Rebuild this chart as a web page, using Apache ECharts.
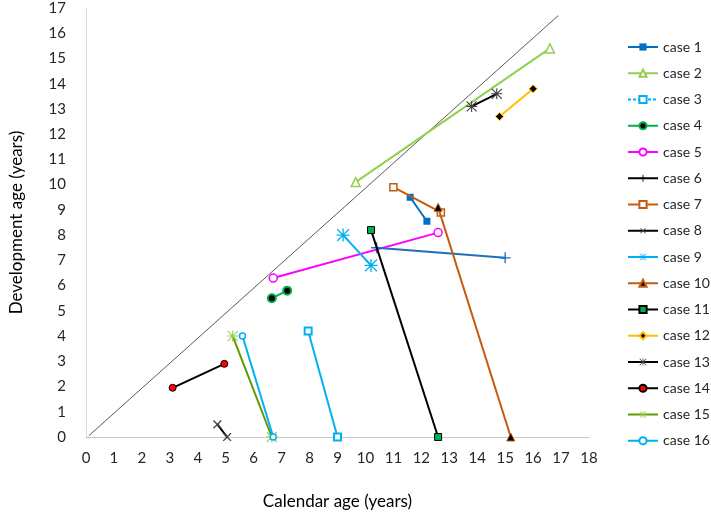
<!DOCTYPE html>
<html>
<head>
<meta charset="utf-8">
<script src="https://cdn.jsdelivr.net/npm/echarts@6/dist/echarts.min.js"></script>
<style>html,body{margin:0;padding:0;background:#fff}#c{width:711px;height:515px}</style>
</head>
<body>
<div id="c"></div>
<script>
// ---- data ----
const caseNames = ['case 1','case 2','case 3','case 4','case 5','case 6','case 7','case 8','case 9','case 10','case 11','case 12','case 13','case 14','case 15','case 16'];
const case1 = [[11.6, 9.5], [12.2, 8.55]];
const case2 = [[9.65, 10.1], [16.6, 15.4]];
const case3 = [[7.95, 4.2], [9.0, 0]];
const case4 = [[6.65, 5.5], [7.2, 5.8]];
const case5 = [[6.7, 6.3], [12.6, 8.1]];
const case6 = [[10.4, 7.5], [15.0, 7.1]];
const case7 = [[11.0, 9.9], [12.7, 8.9]];
const case8 = [[4.7, 0.5], [5.05, 0]];
const case9 = [[9.2, 8.0], [10.2, 6.8]];
const case10 = [[12.6, 9.1], [15.2, 0]];
const case11 = [[10.2, 8.2], [12.6, 0]];
const case12 = [[14.8, 12.7], [16.0, 13.8]];
const case13 = [[13.8, 13.1], [14.7, 13.6]];
const case14 = [[3.1, 1.95], [4.95, 2.9]];
const case15 = [[5.25, 4.0], [6.65, 0]];
const case16 = [[5.6, 4.0], [6.7, 0]];
const diagonal = [[0.1, 0.05], [16.9, 16.7]];
const xTicks = [0, 18, 1];
const yTicks = [0, 17, 1];

const caseData = [case1, case2, case3, case4, case5, case6, case7, case8, case9, case10, case11, case12, case13, case14, case15, case16];

const PLUS = 'path://M44,0H56V44H100V56H56V100H44V56H0V44H44Z';
const AST = 'path://M45,0H55V45H100V55H55V100H45V55H0V45H45Z M8,1L50,43L92,1L99,8L57,50L99,92L92,99L50,57L8,99L1,92L43,50L1,8Z';

const styles = [
  {line:'#0070C0', symbol:'rect', size:7, fill:'#0070C0', border:'#0070C0', bw:0},
  {line:'#92D050', symbol:'triangle', size:9, fill:'#ffffff', border:'#92D050', bw:1.5},
  {line:'#00B0F0', symbol:'rect', size:7, fill:'#ffffff', border:'#00B0F0', bw:2},
  {line:'#00B050', symbol:'circle', size:8, fill:'#000000', border:'#00B050', bw:2},
  {line:'#FF00FF', symbol:'circle', size:8, fill:'#ffffff', border:'#FF00FF', bw:1.5},
  {line:'#1F6FC0', symbol:PLUS, size:11, fill:'#1F6FC0', border:'#1F6FC0', bw:0},
  {line:'#C55A11', symbol:'rect', size:7, fill:'#ffffff', border:'#C55A11', bw:1.5},
  {line:'#000000', symbol:PLUS, size:11, fill:'#404040', border:'#404040', bw:0, rot:45},
  {line:'#00B0F0', symbol:AST, size:13, fill:'#00B0F0', border:'#00B0F0', bw:0},
  {line:'#C55A11', symbol:'triangle', size:8, fill:'#000000', border:'#C55A11', bw:1},
  {line:'#000000', symbol:'rect', size:7, fill:'#00B050', border:'#000000', bw:1},
  {line:'#FFC000', symbol:'diamond', size:8, fill:'#000000', border:'#FFC000', bw:1},
  {line:'#000000', symbol:AST, size:11, fill:'#404040', border:'#404040', bw:0},
  {line:'#000000', symbol:'circle', size:7, fill:'#FF0000', border:'#000000', bw:1},
  {line:'#5E9A00', symbol:AST, size:11, fill:'#92D050', border:'#92D050', bw:0},
  {line:'#00B0F0', symbol:'circle', size:6, fill:'#ffffff', border:'#00B0F0', bw:1.5}
];

const series = [{
  name: 'diag', type: 'line', data: diagonal, showSymbol: false, symbol: 'none',
  lineStyle: {color: '#595959', width: 1}, silent: true, z: 1
}];
caseData.forEach((d, i) => {
  const s = styles[i];
  series.push({
    name: caseNames[i], type: 'line', data: d, clip: false,
    symbol: s.symbol, symbolSize: s.size, symbolRotate: s.rot || 0,
    lineStyle: {color: s.line, width: 2},
    itemStyle: {color: s.fill, borderColor: s.border, borderWidth: s.bw},
    color: s.line, z: 2 + i
  });
});

const legendData = caseNames.map((n, i) => {
  const o = {name: n};
  if (i === 2) o.lineStyle = {type: [3, 2]};
  if (i === 5) { o.lineStyle = {color: '#000000'}; o.itemStyle = {color: '#000000', borderColor: '#000000'}; }
  return o;
});

const FONT = 'Lato';
const chart = echarts.init(document.getElementById('c'), null, {renderer: 'canvas'});
chart.setOption({
  animation: false,
  backgroundColor: '#ffffff',
  grid: {left: 82, right: 122, top: 8, bottom: 72, containLabel: false},
  xAxis: {
    type: 'value', min: xTicks[0], max: xTicks[1], interval: xTicks[2],
    name: 'Calendar age (years)', nameLocation: 'middle', nameGap: 56,
    nameTextStyle: {fontFamily: FONT, fontSize: 17, color: '#000'},
    axisLine: {show: true, lineStyle: {color: '#c8c8c8', width: 1}},
    axisTick: {show: false}, splitLine: {show: false},
    axisLabel: {fontFamily: FONT, fontSize: 15, color: '#262626', margin: 14}
  },
  yAxis: {
    type: 'value', min: yTicks[0], max: yTicks[1], interval: yTicks[2],
    name: 'Development age (years)', nameLocation: 'middle', nameGap: 61,
    nameTextStyle: {fontFamily: FONT, fontSize: 17, color: '#000', padding: [0, 0, 0, 0]},
    axisLine: {show: true, lineStyle: {color: '#d9d9d9', width: 1}},
    axisTick: {show: false}, splitLine: {show: false},
    axisLabel: {fontFamily: FONT, fontSize: 15, color: '#262626', margin: 20}
  },
  legend: {
    orient: 'vertical', left: 627, top: 40, padding: 0,
    itemWidth: 30, itemHeight: 9, itemGap: 12.25,
    textStyle: {fontFamily: FONT, fontSize: 14, color: '#262626'},
    data: legendData
  },
  series: series
});
</script>
</body>
</html>
